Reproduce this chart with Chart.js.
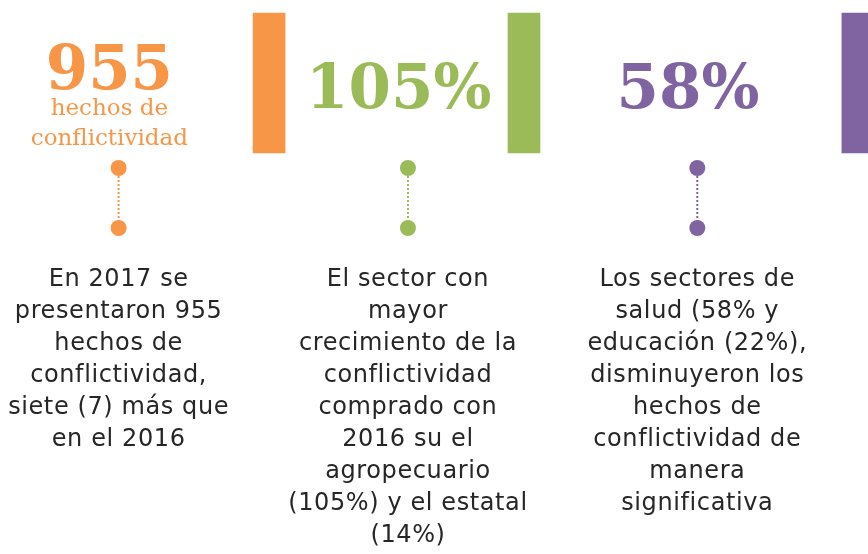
<!DOCTYPE html>
<html>
<head>
<meta charset="utf-8">
<script src="https://cdn.jsdelivr.net/npm/chart.js@4/dist/chart.umd.min.js"></script>
<style>
  html, body { margin: 0; padding: 0; background: #ffffff; }
  #wrap { width: 868px; height: 554px; }
</style>
</head>
<body>
<div id="wrap"><canvas id="chart" width="868" height="554"></canvas></div>
<script>
// panels of the infographic
const categories = ['Hechos de conflictividad', 'Sector agropecuario', 'Sectores de salud y educación'];
const values = [955, 105, 58];
const valueSuffix = ['', '%', '%'];
const subCaptions = [['hechos de', 'conflictividad'], [], []];
const notes = [
  ['En 2017 se', 'presentaron 955', 'hechos de', 'conflictividad,', 'siete (7) más que', 'en el 2016'],
  ['El sector con', 'mayor', 'crecimiento de la', 'conflictividad', 'comprado con', '2016 su el', 'agropecuario', '(105%) y el estatal', '(14%)'],
  ['Los sectores de', 'salud (58% y', 'educación (22%),', 'disminuyeron los', 'hechos de', 'conflictividad de', 'manera', 'significativa']
];
const colors = ['#F79646', '#9BBB59', '#8064A2'];

// layout (x in panel units, y in canvas rows)
const layout = {
  numberX: 0.378,
  dotX: 0.41,
  accentX: [0.93, 0.811, 0.965],
  accentTop: 13,
  accentBottom: 153,
  dotTop: 168,
  dotBottom: 228,
  numberBaseline: 108,
  numberBaselineStacked: 89,
  captionBaseline: 115,
  captionLine: 30,
  noteBaseline: 286,
  noteLine: 32
};

const textPlugin = {
  id: 'panelText',
  afterDatasetsDraw(chart) {
    const { ctx, scales: { x, y } } = chart;
    ctx.save();
    ctx.textAlign = 'center';
    ctx.textBaseline = 'alphabetic';
    categories.forEach((c, i) => {
      const numX = x.getPixelForValue(i + layout.numberX);
      const stacked = subCaptions[i].length > 0;
      ctx.fillStyle = colors[i];
      ctx.letterSpacing = '0px';
      ctx.font = 'bold 61px "DejaVu Serif"';
      ctx.fillText(values[i] + valueSuffix[i], numX,
        y.getPixelForValue(stacked ? layout.numberBaselineStacked : layout.numberBaseline));
      ctx.font = '23px "DejaVu Serif"';
      subCaptions[i].forEach((line, k) => {
        ctx.fillText(line, numX, y.getPixelForValue(layout.captionBaseline + k * layout.captionLine));
      });
      const noteX = x.getPixelForValue(i + layout.dotX);
      ctx.fillStyle = '#262626';
      ctx.letterSpacing = '0.6px';
      ctx.font = '24px "DejaVu Sans"';
      notes[i].forEach((line, k) => {
        ctx.fillText(line, noteX, y.getPixelForValue(layout.noteBaseline + k * layout.noteLine));
      });
    });
    ctx.restore();
  }
};

const ctx = document.getElementById('chart');
const chart = new Chart(ctx, {
  type: 'bar',
  data: {
    datasets: [
      {
        type: 'bar',
        data: categories.map((c, i) => ({ x: i + layout.accentX[i], y: [layout.accentTop, layout.accentBottom] })),
        backgroundColor: colors,
        barThickness: 32,
        borderWidth: 0
      },
      ...categories.map((c, i) => ({
        type: 'line',
        data: [
          { x: i + layout.dotX, y: layout.dotTop },
          { x: i + layout.dotX, y: layout.dotBottom }
        ],
        borderColor: colors[i],
        backgroundColor: colors[i],
        borderWidth: 2,
        borderDash: [2, 2],
        pointRadius: 8,
        pointBorderWidth: 0,
        fill: false
      }))
    ]
  },
  options: {
    responsive: false,
    animation: false,
    devicePixelRatio: 1,
    layout: { padding: 0, autoPadding: false },
    scales: {
      x: { type: 'linear', min: 0, max: 3, offset: false, display: false },
      y: { type: 'linear', min: 0, max: 554, reverse: true, display: false }
    },
    plugins: {
      legend: { display: false },
      tooltip: { enabled: false }
    }
  },
  plugins: [textPlugin]
});
</script>
</body>
</html>
